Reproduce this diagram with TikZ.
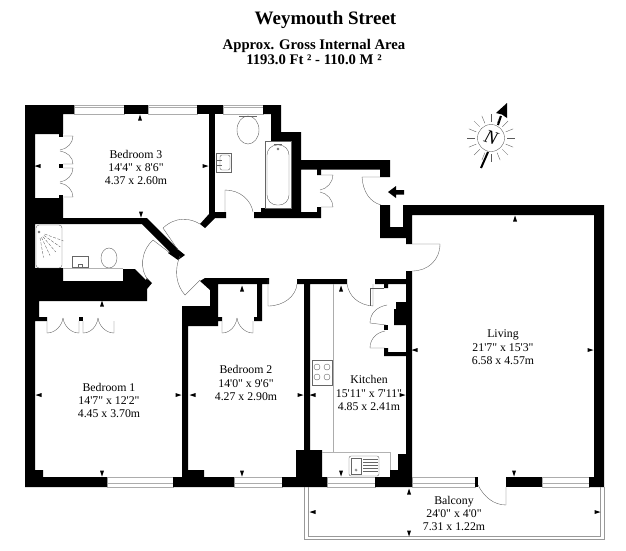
\documentclass[tikz,border=0pt]{standalone}
\usepackage{fontspec}
\setmainfont{Liberation Serif}[Ligatures=TeXOff]
\usetikzlibrary{positioning}
\tikzstyle{wall} = [fill=black]
\tikzstyle{fitting} = [draw=gray!80!black, line width=0.4pt]
\tikzstyle{door} = [draw=gray!70!black, line width=0.35pt]
\tikzstyle{window} = [draw=gray!65, line width=0.6pt]
\tikzstyle{room} = [align=center, inner sep=0pt, font=\fontsize{11.8}{13.4}\selectfont]
\tikzstyle{heading} = [align=center, inner sep=0pt, font=\bfseries\fontsize{14.7}{15.5}\selectfont]
\begin{document}
\begin{tikzpicture}[x=1pt,y=-1pt]
				\useasboundingbox[fill=white] (0,0) rectangle (626,550);
				\node[heading, font=\bfseries\fontsize{19}{20}\selectfont] (title) at (325.5,20) {Weymouth Street};
				\node[heading] (area) at (314,52) {Approx. Gross Internal Area\\1193.0 Ft ² - 110.0 M ²};
				\foreach \wxa/\wxb in {74/124,148/197,223/263}
					{
					\draw[window] (\wxa,105) rectangle (\wxb,114);
					\draw[window] (\wxa,107.5) -- (\wxb,107.5);
					}
				\foreach \wxa/\wxb in {107/173,234/282,327/375,412/475,542/589}
					{
					\draw[window] (\wxa,477) rectangle (\wxb,487);
					\draw[window] (\wxa,483.5) -- (\wxb,483.5);
					}
				\fill[wall] (25,105) -- (74,105) -- (74,114) -- (63,114) -- (63,134) -- (35,134) -- (35,198) -- (63,198) -- (63,218) -- (147,218) -- (178,249) -- (172,254) -- (142,224) -- (35,224) -- (35,268) -- (63,268) -- (63,281) -- (123,281) -- (123,269) -- (135,269) -- (147,281) -- (147,301) -- (39,301) -- (39,317) -- (47,317) -- (47,321) -- (35,321) -- (35,470) -- (43,470) -- (43,477) -- (107,477) -- (107,487) -- (25,487) -- cycle;
				\fill[wall] (168,253) -- (175,247) -- (185,255) -- (178,260) -- cycle;
				\fill[wall] (147,278) -- (152,283) -- (147,289) -- (143,285) -- cycle;
				\fill[wall] (124,105) rectangle (148,114);
				\fill[wall] (197,105) rectangle (223,114);
				\fill[wall] (209,114) rectangle (215,212);
				\fill[wall] (209,212) -- (226,212) -- (226,218) -- (215,218) -- (205,228) -- (200,224) -- (209,214) -- cycle;
				\fill[wall] (263,105) -- (281,105) -- (281,132) -- (301,132) -- (301,160) -- (390,160) -- (390,177) -- (380,177) -- (380,169.5) -- (321,169.5) -- (321,175) -- (317,175) -- (317,169.5) -- (301,169.5) -- (301,212) -- (317,212) -- (317,207) -- (321,207) -- (321,218) -- (254,218) -- (254,212) -- (261,212) -- (261,208) -- (291,208) -- (291,141) -- (271,141) -- (271,114) -- (263,114) -- cycle;
				\fill[wall] (380,205) -- (390,205) -- (390,227) -- (403,227) -- (403,205) -- (604,205) -- (604,487) -- (589,487) -- (589,477) -- (594,477) -- (594,215) -- (412,215) -- (412,244) -- (406,244) -- (406,238) -- (380,238) -- cycle;
				\fill[wall] (412,271) -- (412,487) -- (375,487) -- (375,477) -- (390,477) -- (390,470) -- (398,470) -- (398,454) -- (406,454) -- (406,356) -- (384,356) -- (384,348) -- (388,348) -- (388,352) -- (406,352) -- (406,325) -- (394,325) -- (394,309) -- (396,309) -- (396,302) -- (406,302) -- (406,284) -- (388,284) -- (388,288) -- (384,288) -- (384,284) -- (375,284) -- (375,279) -- (406,279) -- (406,271) -- cycle;
				\fill[wall] (297,279) -- (347,279) -- (347,284) -- (310,284) -- (310,450) -- (322,450) -- (322,477) -- (327,477) -- (327,487) -- (282,487) -- (282,477) -- (296,477) -- (296,450) -- (304,450) -- (304,284) -- (297,284) -- cycle;
				\fill[wall] (173,477) -- (182,477) -- (182,306) -- (210,306) -- (210,290) -- (200,281) -- (205,278) -- (269,278) -- (269,284) -- (262,284) -- (262,321) -- (254,321) -- (254,317) -- (257,317) -- (257,284) -- (218,284) -- (218,317) -- (222,317) -- (222,321) -- (218,321) -- (218,326) -- (188,326) -- (188,470) -- (204,470) -- (204,477) -- (234,477) -- (234,487) -- (173,487) -- cycle;
				\fill[wall] (506,477) rectangle (542,487);
				\fill[wall] (475,477) rectangle (478,487);
				\fill[wall] (59,134) rectangle (63,137);
				\fill[wall] (59,164) rectangle (63,168);
				\fill[wall] (59,195) rectangle (63,198);
				\fill[wall] (79,317) rectangle (83,321);
				\fill[wall] (384,325) rectangle (388,330);
				\draw[door] (63,136) -- (73,136) .. controls (73,143) and (67,149) .. (60,150);
				\draw[door] (63,164) -- (73,164) .. controls (73,157) and (67,152) .. (60,151);
				\draw[door] (63,168) -- (73,168) .. controls (73,175) and (67,181) .. (60,182);
				\draw[door] (63,197) -- (73,197) .. controls (73,190) and (67,184) .. (60,183);
				\draw[door] (47,321) -- (47,333) .. controls (55,333) and (62,326) .. (63,318);
				\draw[door] (79,321) -- (79,333) .. controls (71,333) and (64,326) .. (63,318);
				\draw[door] (83,321) -- (83,333) .. controls (91,333) and (97,326) .. (98,318);
				\draw[door] (114,321) -- (114,333) .. controls (106,333) and (99,326) .. (98,318);
				\draw[door] (222,321) -- (222,333) .. controls (230,333) and (236,326) .. (237,318);
				\draw[door] (253,321) -- (253,333) .. controls (245,333) and (238,326) .. (237,318);
				\draw[door] (178,250) -- (163,228) .. controls (176,216) and (190,218) .. (200,224);
				\draw[door] (170,253) -- (153,240) .. controls (140,252) and (140,270) .. (148,280);
				\draw[door] (200,280) -- (185,295) .. controls (176,285) and (174,270) .. (180,256);
				\draw[door] (225,212) -- (225,190) .. controls (240,190) and (251,200) .. (253,212);
				\draw[door] (321,175) -- (333,175) .. controls (333,182) and (327,189) .. (320,190);
				\draw[door] (321,207) -- (333,207) .. controls (333,200) and (327,193) .. (320,192);
				\draw[door] (380,177) -- (362,177) .. controls (363,192) and (370,202) .. (381,205);
				\draw[door] (412,244) -- (440,244) .. controls (440,260) and (428,271) .. (412,271);
				\draw[door] (268,280) -- (268,306) .. controls (284,306) and (296,296) .. (297,284);
				\draw[door] (373,284) -- (373,306) .. controls (358,305) and (349,296) .. (347,284);
				\draw[door] (370,288) -- (384,288);
				\draw[door] (370,288) -- (370,306);
				\draw[door] (386,325) -- (370,323) .. controls (370,314) and (376,307) .. (387,305);
				\draw[door] (385,348) -- (370,348) .. controls (370,340) and (375,333) .. (385,331);
				\draw[door] (478,485) .. controls (484,497) and (494,505) .. (506,505) -- (506,487);
				\draw[window, gray!80] (304,487) -- (304,539) -- (604,539) -- (604,487);
				\draw[window, gray!80] (308,487) -- (308,536) -- (600,536) -- (600,487);
				\draw[window] (333.5,284) -- (333.5,452);
				\draw[fitting, gray!60] (322,452) -- (390,452) -- (390,470);
				\draw[fitting] (312,360) rectangle (332,385);
				\foreach \hobx in {317,327}
					\foreach \hoby in {367,377}
						\draw[fitting] (\hobx,\hoby) circle (3);
				\draw[fitting, rounded corners=2pt] (349,456) rectangle (379,476);
				\draw[fitting] (351,458) rectangle (361,474);
				\foreach \sinky in {459,462,465,468,471}
					\draw[fitting] (363,\sinky) -- (378,\sinky);
				\draw[fitting] (356,470) circle (1.2);
				\draw[fitting] (265,141) rectangle (291,208);
				\draw[fitting, rounded corners=10pt] (267,145) rectangle (289,205);
				\draw[fitting] (278,149) circle (1);
				\draw[fitting] (274,144) -- (282,144);
				\draw[fitting] (248,130) ellipse (11 and 14);
				\draw[fitting] (239,116) -- (257,116);
				\draw[fitting] (216,153) rectangle (231,172);
				\draw[fitting, rounded corners=2pt] (220,155) rectangle (230,170);
				\draw[fitting] (216,160) -- (222,160);
				\draw[fitting] (216,165) -- (222,165);
				\draw[fitting] (109,258) ellipse (8 and 10);
				\draw[fitting] (101,268) -- (117,268);
				\draw[fitting] (72,256) rectangle (88,267);
				\draw[fitting] (78,264) rectangle (82,268);
				\draw[fitting, rounded corners=3pt] (36,225) rectangle (62,268);
				\draw[fitting] (39,232) circle (1);
				\foreach \sprayang in {20,35,50,65,80}
					\draw[door, dashed, dash pattern=on 3pt off 1.5pt] (39,232) ++ (\sprayang:6) -- ++(\sprayang:20);
				\draw[fitting, gray!60] (63,268.5) -- (123,268.5);
				\foreach \tipx/\tipy/\tipang in {140/118/90,38/166/180,205/166/0,141/214/-90,102/304/90,39/395/180,178/395/0,102/473/-90,242/289/90,193/395/180,300/395/0,242/473/-90,341/289/90,313/395/180,402/395/0,341/473/-90,515/219/90,415/350/180,590/350/0,514/473/-90,409/492/90,313/512/180,597/512/0,409/533/-90}
					\fill[shift={(\tipx,\tipy)}, rotate=\tipang] (3.5,0) -- (-2.5,2) -- (-2.5,-2) -- cycle;
				\fill (388,192) -- (396,186) -- (396,190) -- (404,190) -- (404,194.5) -- (396,194.5) -- (396,198) -- cycle;
				\node[room] (bedthree) at (136,167.5) {Bedroom 3\\14'4" x 8'6"\\4.37 x 2.60m};
				\node[room] (bedone) at (109,400.5) {Bedroom 1\\14'7" x 12'2"\\4.45 x 3.70m};
				\node[room] (bedtwo) at (246,383) {Bedroom 2\\14'0" x 9'6"\\4.27 x 2.90m};
				\node[room] (kitchen) at (369,393) {Kitchen\\15'11" x 7'11"\\4.85 x 2.41m};
				\node[room] (living) at (503,347.5) {Living\\21'7" x 15'3"\\6.58 x 4.57m};
				\node[room] (balcony) at (454,513.5) {Balcony\\24'0" x 4'0"\\7.31 x 1.22m};
				\draw[fitting] (491,138) circle (13.5);
				\foreach \rayang in {0,22.5,...,337.5}
					\draw[door] (491,138) ++ (\rayang:16) -- ++(\rayang:8);
				\node[inner sep=0pt, rotate=-18, font=\itshape\fontsize{19}{19}\selectfont] (north) at (491,138) {N};
				\coordinate (stemlow) at (481,168);
				\coordinate (stemhigh) at (488,152);
				\coordinate (arrowlow) at (498,125);
				\coordinate (arrowtip) at (507,103);
				\draw[line width=2pt] (stemlow) -- (stemhigh);
				\draw[line width=2pt] (arrowlow) -- (501,116);
				\fill (arrowtip) -- (496,113) -- (502,114.5) -- (507,118) -- cycle;
			\end{tikzpicture}
\end{document}
